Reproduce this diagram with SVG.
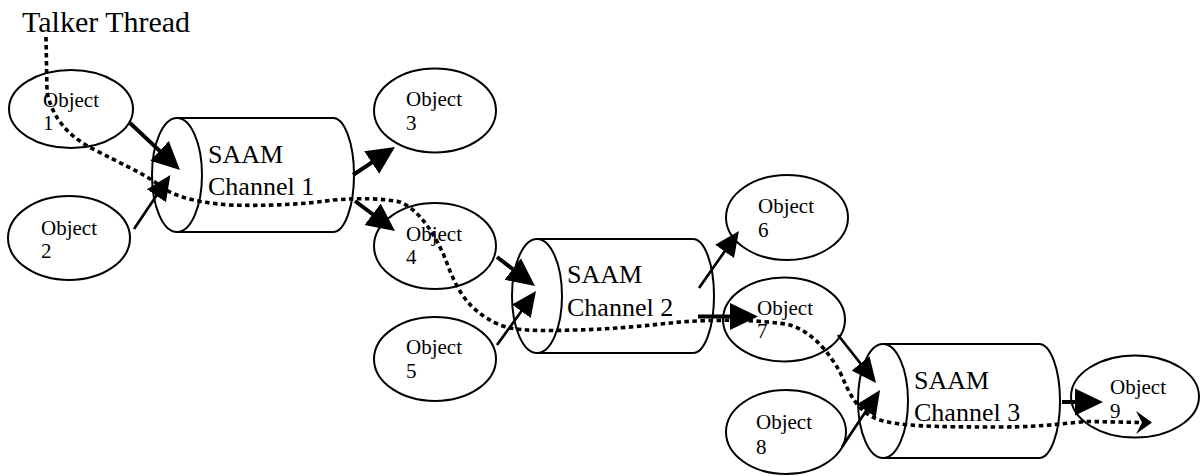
<svg xmlns="http://www.w3.org/2000/svg" width="1201" height="476" viewBox="0 0 1201 476">
<defs>
<style>
.obj{fill:#fff;stroke:#000;stroke-width:2}
.cyl{fill:#fff;stroke:#000;stroke-width:2}
.t{font-family:"Liberation Serif","Times New Roman",serif;fill:#000}
.ot{font-size:21px}
.ct{font-size:26px}
.arr{fill:none;stroke:#000}
.thick{stroke-width:4;marker-end:url(#ah)}
.thin{stroke-width:2.7;marker-end:url(#ahs)}
.thread{fill:none;stroke:#000;stroke-width:3.6;stroke-dasharray:4.5 3.5}
</style>
<marker id="ah" markerUnits="userSpaceOnUse" markerWidth="28" markerHeight="28" refX="22" refY="14" orient="auto">
<path d="M0,0.5 L28,14 L0,27.5 Z" fill="#000"/>
</marker>
<marker id="ahs" markerUnits="userSpaceOnUse" markerWidth="25" markerHeight="24" refX="19" refY="12" orient="auto">
<path d="M0,0.5 L25,12 L0,23.5 Z" fill="#000"/>
</marker>
</defs>
<rect width="1201" height="476" fill="#fff"/>

<g id="talker-thread-label">
<text class="t" x="22" y="32" font-size="30">Talker Thread</text>
</g>

<g id="object1"><ellipse class="obj" cx="71" cy="109" rx="62" ry="39"/><text class="t ot" x="43" y="107">Object</text><text class="t ot" x="43" y="130">1</text></g>
<g id="object2"><ellipse class="obj" cx="69" cy="238" rx="61" ry="42"/><text class="t ot" x="41" y="235">Object</text><text class="t ot" x="41" y="258">2</text></g>
<g id="object3"><ellipse class="obj" cx="435" cy="110.5" rx="61" ry="42"/><text class="t ot" x="406" y="106">Object</text><text class="t ot" x="406" y="130">3</text></g>
<g id="object4"><ellipse class="obj" cx="435" cy="246" rx="61" ry="43"/><text class="t ot" x="406" y="241">Object</text><text class="t ot" x="406" y="264">4</text></g>
<g id="object5"><ellipse class="obj" cx="435" cy="359" rx="61" ry="42"/><text class="t ot" x="406" y="354">Object</text><text class="t ot" x="406" y="378">5</text></g>
<g id="object6"><ellipse class="obj" cx="787" cy="217.5" rx="61" ry="42.5"/><text class="t ot" x="758" y="213">Object</text><text class="t ot" x="758" y="237">6</text></g>
<g id="object7"><ellipse class="obj" cx="784" cy="319.5" rx="61" ry="42"/><text class="t ot" x="757" y="315">Object</text><text class="t ot" x="757" y="338">7</text></g>
<g id="object8"><ellipse class="obj" cx="786" cy="432" rx="60" ry="42"/><text class="t ot" x="756" y="429">Object</text><text class="t ot" x="756" y="454">8</text></g>
<g id="object9"><ellipse class="obj" cx="1135" cy="396.5" rx="64" ry="41"/><text class="t ot" x="1110" y="394">Object</text><text class="t ot" x="1110" y="418">9</text></g>

<g id="channel1">
<path class="cyl" d="M177,118 H333 A21,57 0 0 1 333,232 H177 Z"/>
<ellipse class="cyl" cx="177" cy="175" rx="25" ry="57"/>
<text class="t ct" x="208" y="163">SAAM</text><text class="t ct" x="208" y="195">Channel 1</text>
</g>
<g id="channel2">
<path class="cyl" d="M537,239 H693 A21,57 0 0 1 693,353 H537 Z"/>
<ellipse class="cyl" cx="537" cy="296" rx="25" ry="57"/>
<text class="t ct" x="567" y="283">SAAM</text><text class="t ct" x="567" y="316">Channel 2</text>
</g>
<g id="channel3">
<path class="cyl" d="M883,344 H1039 A21,57 0 0 1 1039,458 H883 Z"/>
<ellipse class="cyl" cx="883" cy="401" rx="25" ry="57"/>
<text class="t ct" x="914" y="389">SAAM</text><text class="t ct" x="914" y="421">Channel 3</text>
</g>

<g id="connectors">
<path class="arr thick" d="M130,123 L175.6,165.9"/>
<path class="arr thin" d="M134,229 L167,180"/>
<path class="arr thick" d="M353,175 L390,150.3"/>
<path class="arr thick" d="M355,201 L390.2,227.4"/>
<path class="arr thick" d="M497,257 L530.2,282.4"/>
<path class="arr thin" d="M497,345 L532.5,295.9"/>
<path class="arr thin" d="M699,288 L735.5,235.9"/>
<path class="arr thick" d="M698,316.5 L752,316.5"/>
<path class="arr thin" d="M838,335 L872.3,378.3"/>
<path class="arr thin" d="M842,447 L876.7,395"/>
<path class="arr thick" d="M1062,402 L1097,402"/>
<path class="thread" d="M46,37 L47,92 C52,115 65,135 95,150 C120,163 140,172 155,182 C170,195 190,202 230,205 C260,206 300,205 333,200 C360,198 380,198 400,202 C420,210 435,235 445,258 C455,285 465,310 500,325 C515,331 540,331 575,330 C620,329 650,325 680,322 C720,319 765,320 790,325 C815,333 830,355 840,372 C850,395 858,413 880,420 C900,426 930,427 1000,427 C1050,427 1070,422 1090,421.5 L1142,422.5"/>
<polygon points="1136,411 1152,422.5 1136,434 1142,422.5" fill="#000"/>
</g>
</svg>
